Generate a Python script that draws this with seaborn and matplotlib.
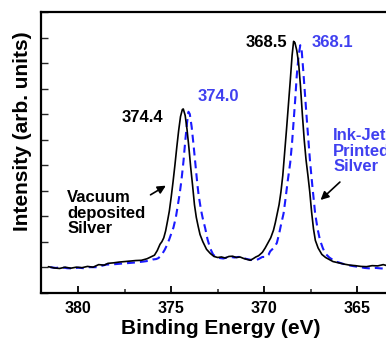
import numpy as np
import pandas as pd
import matplotlib
matplotlib.use("Agg")
import matplotlib.pyplot as plt
import seaborn as sns
from matplotlib.ticker import MultipleLocator, NullFormatter

sns.set_theme(style="ticks")
plt.rcParams['font.family'] = ['Liberation Sans', 'DejaVu Sans']
plt.rcParams['font.weight'] = 'bold'

# Vacuum deposited silver (black solid)
vac_x = [381.6, 381.3, 381.0, 380.7, 380.4, 380.1, 379.8, 379.5, 379.2, 378.9,
         378.6, 378.4, 378.1, 377.8, 377.5, 377.2, 376.9, 376.6, 376.3, 376.1,
         375.9, 375.75, 375.6, 375.5, 375.4, 375.3, 375.2, 375.1, 375.0, 374.9,
         374.8, 374.7, 374.6, 374.5, 374.4, 374.35, 374.25, 374.15, 374.05, 373.95,
         373.85, 373.75, 373.65, 373.55, 373.45, 373.3, 373.1, 372.9, 372.7, 372.5,
         372.3, 372.1, 371.9, 371.7, 371.5, 371.3, 371.1, 370.9, 370.75, 370.6,
         370.45, 370.3, 370.1, 369.95, 369.8, 369.65, 369.5, 369.4, 369.3, 369.2,
         369.1, 369.0, 368.9, 368.8, 368.7, 368.6, 368.5, 368.42, 368.35, 368.25,
         368.15, 368.05, 367.95, 367.85, 367.75, 367.65, 367.55, 367.45, 367.35, 367.25,
         367.1, 366.9, 366.7, 366.5, 366.3, 366.0, 365.7, 365.4, 365.1, 364.8,
         364.5, 364.2, 363.9, 363.6, 363.3]
vac_y = [0.02, -0.03, -0.05, 0.00, -0.04, 0.00, -0.02, 0.03, 0.00, 0.10,
         0.08, 0.15, 0.17, 0.20, 0.22, 0.24, 0.26, 0.27, 0.33, 0.40,
         0.47, 0.65, 0.90, 1.00, 1.15, 1.42, 1.80, 2.20, 2.75, 3.35,
         4.00, 4.70, 5.35, 5.90, 6.18, 6.20, 5.95, 5.40, 4.70, 3.90,
         3.20, 2.45, 1.95, 1.60, 1.28, 1.00, 0.70, 0.54, 0.42, 0.38,
         0.40, 0.36, 0.42, 0.43, 0.38, 0.40, 0.34, 0.30, 0.27, 0.33,
         0.40, 0.45, 0.58, 0.75, 0.95, 1.15, 1.45, 1.75, 2.10, 2.45,
         2.95, 3.60, 4.50, 5.40, 6.35, 7.30, 8.30, 8.85, 8.80, 8.50,
         8.00, 7.10, 6.00, 5.00, 4.20, 3.60, 2.95, 2.15, 1.50, 1.05,
         0.75, 0.50, 0.38, 0.30, 0.22, 0.17, 0.12, 0.08, 0.06, 0.03,
         0.02, 0.06, 0.05, 0.10, 0.04]

# Ink-jet printed silver (blue dashed)
ink_x = [381.5, 381.2, 380.9, 380.6, 380.3, 380.0, 379.7, 379.4, 379.0, 378.5,
         378.0, 377.5, 377.0, 376.5, 376.2, 376.0, 375.8, 375.68, 375.5, 375.35,
         375.23, 375.1, 374.98, 374.88, 374.75, 374.65, 374.55, 374.45, 374.34, 374.25,
         374.15, 374.07, 374.0, 373.9, 373.8, 373.7, 373.6, 373.53, 373.4, 373.3,
         373.17, 373.05, 372.9, 372.75, 372.6, 372.4, 372.2, 372.0, 371.8, 371.6,
         371.4, 371.2, 371.0, 370.8, 370.6, 370.45, 370.3, 370.1, 369.9, 369.77,
         369.68, 369.5, 369.4, 369.32, 369.2, 369.1, 368.96, 368.85, 368.75, 368.6,
         368.5, 368.4, 368.33, 368.25, 368.15, 368.06, 367.98, 367.9, 367.8, 367.7,
         367.6, 367.53, 367.4, 367.26, 367.13, 367.0, 366.85, 366.72, 366.5, 366.3,
         366.09, 365.8, 365.5, 365.2, 364.9, 364.6, 364.3, 364.0, 363.7, 363.4]
ink_y = [0.00, -0.03, 0.00, -0.04, -0.05, -0.02, -0.04, 0.00, 0.00, 0.10,
         0.12, 0.15, 0.18, 0.22, 0.25, 0.30, 0.32, 0.36, 0.50, 0.68,
         0.86, 1.10, 1.35, 1.55, 1.95, 2.40, 2.85, 3.40, 4.15, 4.90,
         5.65, 6.09, 6.00, 5.50, 4.80, 4.05, 3.30, 2.85, 2.25, 1.90,
         1.52, 1.10, 0.73, 0.50, 0.40, 0.36, 0.34, 0.38, 0.40, 0.38,
         0.40, 0.40, 0.33, 0.30, 0.27, 0.27, 0.32, 0.40, 0.40, 0.48,
         0.62, 0.75, 0.85, 0.95, 1.30, 1.65, 2.10, 2.70, 3.30, 4.10,
         4.90, 5.90, 6.60, 7.50, 8.30, 8.70, 8.45, 7.70, 6.70, 5.70,
         4.75, 4.10, 3.10, 2.10, 1.50, 1.06, 0.75, 0.54, 0.38, 0.28,
         0.21, 0.14, 0.08, 0.04, 0.01, -0.03, -0.05, -0.03, -0.05, -0.04]

x_ticks = [380, 375, 370, 365]

df_vac = pd.DataFrame({"E": vac_x, "I": vac_y})
df_ink = pd.DataFrame({"E": ink_x, "I": ink_y})

fig = plt.figure(figsize=(3.86, 3.40), dpi=100)
ax = fig.add_axes([41/386, 47.3/340, 372/386, 280.7/340])

blue_line = '#1a1aff'
blue_text = '#4040f0'

sns.lineplot(data=df_ink, x="E", y="I", sort=False, ax=ax, color=blue_line,
             linewidth=1.5, linestyle=(0, (3.8, 2.4)))
sns.lineplot(data=df_vac, x="E", y="I", sort=False, ax=ax, color='black',
             linewidth=1.2)

ax.set_xlim(382, 362)
ax.set_ylim(-1, 10)
ax.set_xticks(x_ticks)
ax.xaxis.set_minor_locator(MultipleLocator(2.5))
ax.yaxis.set_major_locator(MultipleLocator(1))
ax.yaxis.set_major_formatter(NullFormatter())
ax.tick_params(axis='x', direction='in', length=5, width=1.3, labelsize=11.5,
               pad=6, colors='black')
ax.tick_params(axis='x', which='minor', direction='in', length=3, width=1.1)
ax.tick_params(axis='y', direction='in', length=5, width=1.0)
for lab in ax.get_xticklabels():
    lab.set_fontweight('bold')
for s in ax.spines.values():
    s.set_linewidth(1.6)
    s.set_color('black')

xl = ax.set_xlabel('Binding Energy (eV)', fontsize=15, fontweight='bold',
                   color='black')
yl = ax.set_ylabel('Intensity (arb. units)', fontsize=15, fontweight='bold',
                   color='black')
xl.set_verticalalignment('center')
yl.set_verticalalignment('center')
ax.xaxis.set_label_coords((221 - 41) / 372, (292.7 - 329) / 280.7)
ax.yaxis.set_label_coords((23 - 41) / 372, (292.7 - 131.5) / 280.7)

tk = dict(fontsize=12, fontweight='bold', ha='center', va='center')
ax.text(376.56, 5.88, '374.4', color='black', **tk)
ax.text(372.47, 6.67, '374.0', color=blue_text, **tk)
ax.text(369.89, 8.82, '368.5', color='black', **tk)
ax.text(366.34, 8.82, '368.1', color=blue_text, **tk)

ax.text(380.59, 2.12, 'Vacuum\ndeposited\nSilver', color='black', fontsize=12,
        fontweight='bold', ha='left', va='center', linespacing=1.07)
ax.text(366.29, 4.55, 'Ink-Jet\nPrinted\nSilver', color=blue_text, fontsize=12,
        fontweight='bold', ha='left', va='center', linespacing=1.07)

ax.annotate('', xy=(375.16, 3.25), xytext=(376.24, 2.78),
            arrowprops=dict(arrowstyle='-|>', color='black', lw=1.2,
                            mutation_scale=12))
ax.annotate('', xy=(367.08, 2.56), xytext=(365.82, 3.41),
            arrowprops=dict(arrowstyle='-|>', color='black', lw=1.2,
                            mutation_scale=12))

fig.savefig('out.png', dpi=100)
